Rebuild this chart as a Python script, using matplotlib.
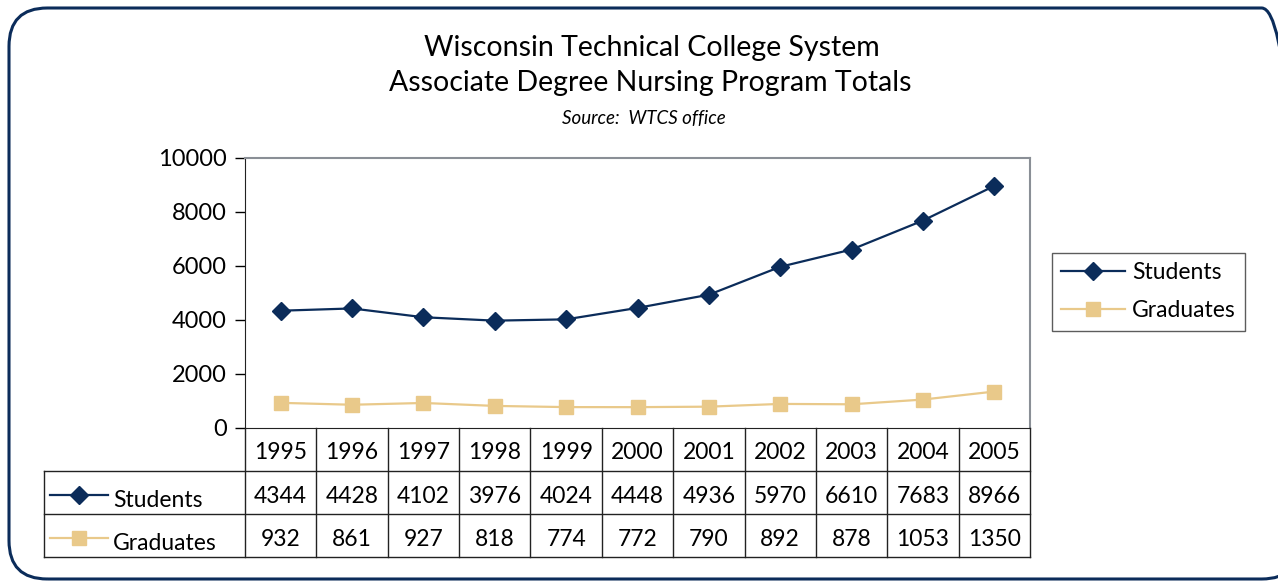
import numpy as np
import matplotlib
matplotlib.use("Agg")
import matplotlib.pyplot as plt
from matplotlib.patches import FancyBboxPatch

plt.rcParams['font.family'] = ['Lato', 'DejaVu Sans']

# data
years = ['1995', '1996', '1997', '1998', '1999', '2000', '2001', '2002', '2003', '2004', '2005']
students = [4344, 4428, 4102, 3976, 4024, 4448, 4936, 5970, 6610, 7683, 8966]
graduates = [932, 861, 927, 818, 774, 772, 790, 892, 878, 1053, 1350]

navy = '#0b2c5a'
tan = '#e9c98a'

W, H = 1278, 583
fig = plt.figure(figsize=(W / 100, H / 100), dpi=100)

def fx(px):
    return px / W

def fy(py):
    return 1 - py / H

# rounded frame
frame = FancyBboxPatch((fx(9), fy(579)), fx(1300) - fx(9), fy(8) - fy(579),
                       boxstyle="round,pad=0,rounding_size=0.03",
                       transform=fig.transFigure, fill=False,
                       edgecolor=navy, linewidth=2.2, mutation_aspect=W / H)
fig.patches.append(frame)

# titles
fig.text(fx(652), fy(48), "Wisconsin Technical College System", ha='center', va='center', fontsize=20.5)
fig.text(fx(650), fy(83), "Associate Degree Nursing Program Totals", ha='center', va='center', fontsize=20.5)
fig.text(fx(644), fy(119), "Source:  WTCS office", ha='center', va='center', fontsize=13.5, style='italic')

# main plot
x0, x1, y0, y1 = 245, 1030, 158, 428
ax = fig.add_axes([fx(x0), fy(y1), fx(x1) - fx(x0), fy(y0) - fy(y1)])
xs = np.arange(len(years)) + 0.5
ax.plot(xs, students, color=navy, lw=1.6, marker='D', markersize=9, label='Students')
ax.plot(xs, graduates, color=tan, lw=1.6, marker='s', markersize=10, label='Graduates')
ax.set_xlim(0, len(years))
ax.set_ylim(0, 10000)
ax.set_yticks(np.arange(0, 10001, 2000))
ax.set_xticks([])
ax.tick_params(axis='y', direction='out', length=7, width=1, labelsize=17, pad=6)
for s in ['top', 'right']:
    ax.spines[s].set_color('#8a8f96')
    ax.spines[s].set_linewidth(1.5)
ax.spines['left'].set_color('#222222')
ax.spines['bottom'].set_color('#222222')

# legend
leg = fig.legend(loc='upper left', bbox_to_anchor=(fx(1052), fy(253)), fontsize=16.5,
                 frameon=True, fancybox=False, edgecolor='#333333', borderpad=0.4,
                 borderaxespad=0, handlelength=2.8, labelspacing=0.75, handletextpad=0.3)
leg.get_frame().set_linewidth(1.0)

# data table
tl = 44
ncol = len(years)
colw = (x1 - x0) / ncol
lab_w = (x0 - tl) / colw
tax = fig.add_axes([fx(tl), fy(557), fx(x1) - fx(tl), fy(428) - fy(557)])
tax.set_xlim(-lab_w, ncol)
tax.set_ylim(3, 0)
tax.axis('off')
lc = '#222222'
for i in range(ncol + 1):
    tax.plot([i, i], [0, 3], color=lc, lw=1.0, clip_on=False)
for r in [1, 2, 3]:
    tax.plot([-lab_w, ncol], [r, r], color=lc, lw=1.0, clip_on=False)
tax.plot([-lab_w, -lab_w], [1, 3], color=lc, lw=1.0, clip_on=False)

for i, yr in enumerate(years):
    tax.text(i + 0.5, 0.58, yr, ha='center', va='center', fontsize=16.5)
    tax.text(i + 0.5, 1.6, str(students[i]), ha='center', va='center', fontsize=16.5)
    tax.text(i + 0.5, 2.6, str(graduates[i]), ha='center', va='center', fontsize=16.5)

# row keys
k0 = -lab_w + 6 / colw
k1 = -lab_w + 64 / colw
for r, (name, col, mk, ms) in enumerate([('Students', navy, 'D', 9), ('Graduates', tan, 's', 10)]):
    yk = 1.55 + r
    tax.plot([k0, k1], [yk, yk], color=col, lw=1.6)
    tax.plot([(k0 + k1) / 2], [yk], color=col, marker=mk, markersize=ms, lw=0)
    tax.text(k1 + 5 / colw, 1.68 + r, name, ha='left', va='center', fontsize=16.5)

fig.savefig('out.png', dpi=100)
